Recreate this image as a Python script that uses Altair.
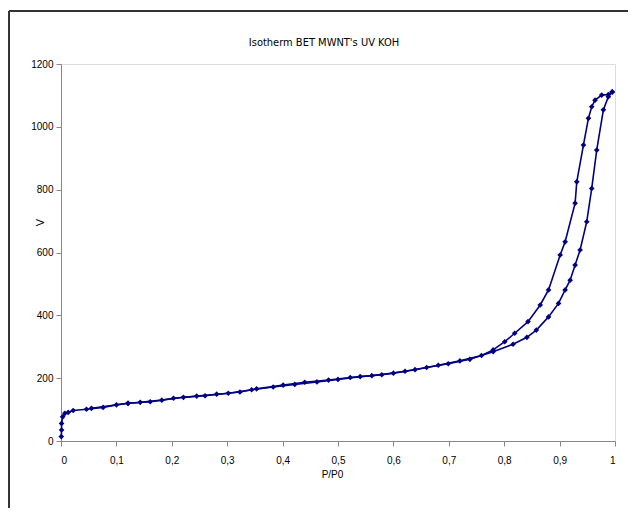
import altair as alt
import pandas as pd

ads_p = [0.0005, 0.001, 0.001, 0.003, 0.007, 0.013, 0.022, 0.046, 0.076, 0.10, 0.121, 0.143,
         0.182, 0.203, 0.245, 0.281, 0.302, 0.344, 0.383, 0.422, 0.462, 0.50, 0.54, 0.579,
         0.621, 0.66, 0.699, 0.738, 0.78, 0.816, 0.841, 0.858, 0.88, 0.898, 0.91, 0.919,
         0.928, 0.937, 0.949, 0.958, 0.967, 0.979, 0.988, 0.995]
ads_v = [14, 35, 56, 77, 88, 91, 97, 101, 107, 115, 120, 123,
         130, 136, 143, 149, 152, 163, 172, 180, 188, 196, 205, 211,
         222, 234, 246, 260, 284, 308, 330, 353, 395, 438, 481, 512,
         560, 608, 698, 804, 926, 1054, 1096, 1112]

des_p = [0.995, 0.988, 0.976, 0.964, 0.958, 0.952, 0.943, 0.931, 0.928, 0.91, 0.901, 0.88,
         0.865, 0.843, 0.819, 0.801, 0.78, 0.759, 0.72, 0.681, 0.639, 0.60, 0.561, 0.522,
         0.483, 0.44, 0.401, 0.353, 0.323, 0.26, 0.221, 0.161, 0.121, 0.055]
des_v = [1110, 1103, 1101, 1085, 1064, 1027, 942, 825, 757, 634, 592, 481,
         433, 380, 343, 316, 290, 272, 255, 241, 227, 216, 208, 202,
         194, 187, 178, 166, 156, 144, 139, 125, 120, 104]

x_ticks = [0, 0.1, 0.2, 0.3, 0.4, 0.5, 0.6, 0.7, 0.8, 0.9, 1]
y_ticks = [0, 200, 400, 600, 800, 1000, 1200]

rows = []
for i, (p, v) in enumerate(zip(ads_p, ads_v)):
    rows.append({"P": p, "V": v, "branch": "ads", "i": i})
for i, (p, v) in enumerate(zip(des_p, des_v)):
    rows.append({"P": p, "V": v, "branch": "des", "i": i})
df = pd.DataFrame(rows)

FONT = "DejaVu Sans Condensed, Liberation Sans Narrow, Arial Narrow, Liberation Sans, sans-serif"
NAVY = "#000080"

xs = alt.X("P:Q", scale=alt.Scale(domain=[0, 1], nice=False),
           axis=alt.Axis(values=x_ticks, grid=False, title="P/P0",
                         labelExpr="replace(format(datum.value, ''), '.', ',')",
                         titleX=271, titleY=33, titleBaseline="middle",
                         titleFontWeight="normal", titleFontSize=10,
                         labelPadding=9, tickSize=5))
ys = alt.Y("V:Q", scale=alt.Scale(domain=[0, 1200], nice=False),
           axis=alt.Axis(values=y_ticks, grid=False, title="V", format="d",
                         titleX=-21, titleY=158, titleBaseline="middle", titleAngle=270,
                         titleFontWeight="normal", titleFontSize=11,
                         labelPadding=3, tickSize=5))

base = alt.Chart(df)
line = base.mark_line(color=NAVY, strokeWidth=1.6).encode(
    x=xs, y=ys, detail="branch:N", order="i:Q")
pts = base.mark_point(shape="diamond", filled=True, color=NAVY, size=32, opacity=1).encode(
    x="P:Q", y="V:Q")

title_df = pd.DataFrame({"t": ["Isotherm BET MWNT's UV KOH"]})
title = alt.Chart(title_df).mark_text(font=FONT, fontSize=11, color="black",
                                      baseline="middle", align="center").encode(
    text="t:N", x=alt.value(263), y=alt.value(-21))

frame_left = alt.Chart(title_df).mark_rule(stroke="#333333", strokeWidth=2).encode(
    x=alt.value(-52), x2=alt.value(-52), y=alt.value(-53), y2=alt.value(460))
frame_top = alt.Chart(title_df).mark_rule(stroke="#333333", strokeWidth=2).encode(
    x=alt.value(-52), x2=alt.value(600), y=alt.value(-53), y2=alt.value(-53))

chart = alt.layer(frame_left, frame_top, line, pts, title).properties(
    width=554, height=377,
    padding={"left": 53, "top": 56, "right": 13, "bottom": 67},
    autosize="none",
).configure_view(stroke="#333333", strokeWidth=1.5).configure_axis(
    domainColor="#222222", domainWidth=1.5, tickColor="#222222", tickWidth=1.5,
    labelFont=FONT, titleFont=FONT, labelFontSize=11, labelColor="black", titleColor="black",
).configure(background="white")

chart.save("out.html", embed_options={"renderer": "svg", "actions": False})
